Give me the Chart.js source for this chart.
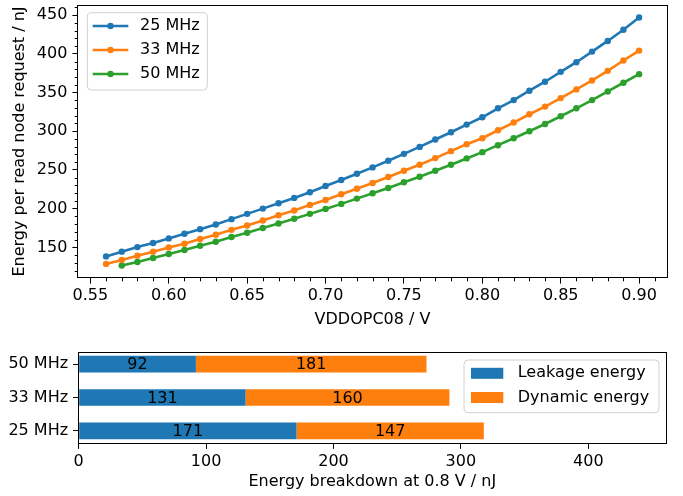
<!DOCTYPE html>
<html lang="en">
<head>
<meta charset="UTF-8">
<title>Energy per read node request</title>
<script src="https://cdn.jsdelivr.net/npm/chart.js"></script>
<style>
  body { margin: 0; background: white; }
  #wrap { position: relative; width: 683px; height: 496px; }
  .box { position: absolute; left: 0; width: 683px; }
  #top { top: 0; height: 340px; }
  #bottom { top: 340px; height: 156px; }
</style>
</head>
<body>
<div id="wrap">
  <div class="box" id="top"><canvas id="lineChart"></canvas></div>
  <div class="box" id="bottom"><canvas id="barChart"></canvas></div>
</div>
<script>
// supply voltage sweep (V)
var voltages = [0.56, 0.57, 0.58, 0.59, 0.60, 0.61, 0.62, 0.63, 0.64, 0.65, 0.66, 0.67,
                0.68, 0.69, 0.70, 0.71, 0.72, 0.73, 0.74, 0.75, 0.76, 0.77, 0.78, 0.79,
                0.80, 0.81, 0.82, 0.83, 0.84, 0.85, 0.86, 0.87, 0.88, 0.89, 0.90];
// energy per read node request (nJ)
var e25 = [138.4, 144.5, 150.4, 155.6, 161.6, 167.6, 173.6, 179.6, 186.5, 193.3, 200.1, 207.0,
           213.9, 221.2, 229.3, 237.0, 245.1, 253.3, 261.8, 270.8, 279.8, 289.3, 298.7, 308.6,
           318.0, 329.6, 340.2, 352.3, 363.9, 376.7, 389.1, 402.8, 416.6, 431.1, 446.9];
var e33 = [128.7, 133.8, 139.3, 144.5, 150.0, 154.8, 160.8, 166.3, 172.7, 178.3, 184.7, 191.6,
           197.6, 204.9, 211.3, 218.6, 225.8, 233.2, 240.9, 249.0, 256.7, 265.3, 274.3, 283.3,
           291.0, 301.3, 311.2, 321.9, 331.8, 342.8, 354.0, 365.6, 378.0, 391.3, 404.1];
var e50 = [null, 126.5, 131.2, 136.4, 141.5, 146.7, 152.2, 157.3, 163.4, 168.9, 175.0, 180.9,
           187.0, 193.3, 199.7, 206.2, 213.0, 219.9, 226.7, 234.1, 241.3, 249.0, 256.7, 264.9,
           273.0, 282.0, 291.0, 300.0, 309.4, 319.3, 329.6, 340.2, 351.4, 362.6, 373.7];
var seriesNames = ['25 MHz', '33 MHz', '50 MHz'];

var xTicks = [0.55, 0.60, 0.65, 0.70, 0.75, 0.80, 0.85, 0.90];
var xMinor = [0.56, 0.57, 0.58, 0.59, 0.61, 0.62, 0.63, 0.64, 0.66, 0.67, 0.68, 0.69,
              0.71, 0.72, 0.73, 0.74, 0.76, 0.77, 0.78, 0.79, 0.81, 0.82, 0.83, 0.84,
              0.86, 0.87, 0.88, 0.89, 0.91];
var yTicks = [150, 200, 250, 300, 350, 400, 450];
var yMinor = [120, 130, 140, 160, 170, 180, 190, 210, 220, 230, 240, 260, 270, 280, 290,
              310, 320, 330, 340, 360, 370, 380, 390, 410, 420, 430, 440, 460];

// breakdown at 0.8 V (bottom to top)
var freqs = ['25 MHz', '33 MHz', '50 MHz'];
var leakage = [171, 131, 92];
var dynamic = [147, 160, 181];
var breakdownNames = ['Leakage energy', 'Dynamic energy'];
var barTicks = [0, 100, 200, 300, 400];

var blue = '#1f77b4', orange = '#ff7f0e', green = '#2ca02c';
var lineColors = [blue, orange, green];

Chart.defaults.font.family = "'DejaVu Sans', sans-serif";
Chart.defaults.font.size = 16;
Chart.defaults.color = '#000';

function points(ys) {
    return voltages.map(function(v, i) { return {x: v, y: ys[i]}; });
}

function fixScale(size) {
    return function(scale) {
        if (scale.isHorizontal()) scale.height = size; else scale.width = size;
        scale.paddingTop = 0; scale.paddingBottom = 0;
        scale.paddingLeft = 0; scale.paddingRight = 0;
    };
}

function setTicks(list) {
    return function(scale) {
        scale.ticks = list.map(function(v) { return {value: v}; });
    };
}

function roundRect(ctx, x, y, w, h, r) {
    ctx.beginPath();
    ctx.moveTo(x + r, y);
    ctx.lineTo(x + w - r, y);
    ctx.quadraticCurveTo(x + w, y, x + w, y + r);
    ctx.lineTo(x + w, y + h - r);
    ctx.quadraticCurveTo(x + w, y + h, x + w - r, y + h);
    ctx.lineTo(x + r, y + h);
    ctx.quadraticCurveTo(x, y + h, x, y + h - r);
    ctx.lineTo(x, y + r);
    ctx.quadraticCurveTo(x, y, x + r, y);
    ctx.closePath();
}

function drawFrame(chart) {
    var ctx = chart.ctx, a = chart.chartArea;
    ctx.save();
    ctx.strokeStyle = '#000';
    ctx.lineWidth = 1;
    ctx.strokeRect(Math.round(a.left) - 0.5, Math.round(a.top) + 0.5,
                   Math.round(a.right - a.left) + 1, Math.round(a.bottom - a.top) - 1);
    ctx.restore();
}

// line chart: frame, minor ticks and legend
var linePlugin = {
    id: 'lineExtras',
    afterDraw: function(chart) {
        var ctx = chart.ctx, a = chart.chartArea;
        var xs = chart.scales.x, ys = chart.scales.y;
        drawFrame(chart);
        ctx.save();
        ctx.strokeStyle = '#000';
        ctx.lineWidth = 1;
        xMinor.forEach(function(v) {
            var px = Math.round(xs.getPixelForValue(v)) + 0.5;
            ctx.beginPath(); ctx.moveTo(px, a.bottom); ctx.lineTo(px, a.bottom + 3.3); ctx.stroke();
        });
        yMinor.forEach(function(v) {
            var py = Math.round(ys.getPixelForValue(v)) + 0.5;
            ctx.beginPath(); ctx.moveTo(a.left, py); ctx.lineTo(a.left - 3.3, py); ctx.stroke();
        });

        var x0 = a.left + 9.3, y0 = a.top + 7.7;
        roundRect(ctx, x0, y0, 120, 77.3, 4);
        ctx.fillStyle = 'rgba(255,255,255,0.8)';
        ctx.fill();
        ctx.strokeStyle = '#d0d0d0';
        ctx.stroke();
        ctx.textBaseline = 'middle';
        ctx.textAlign = 'left';
        ctx.font = "16px 'DejaVu Sans', sans-serif";
        seriesNames.forEach(function(name, i) {
            var cy = y0 + 13.3 + i * 24;
            ctx.strokeStyle = lineColors[i];
            ctx.lineWidth = 2.6;
            ctx.beginPath(); ctx.moveTo(x0 + 5.4, cy); ctx.lineTo(x0 + 41, cy); ctx.stroke();
            ctx.fillStyle = lineColors[i];
            ctx.beginPath(); ctx.arc(x0 + 23.2, cy, 3.2, 0, Math.PI * 2); ctx.fill();
            ctx.fillStyle = '#000';
            ctx.fillText(name, x0 + 52.7, cy);
        });
        ctx.restore();
    }
};

// bar chart: frame, value labels and legend
var barPlugin = {
    id: 'barExtras',
    afterDatasetsDraw: function(chart) {
        var ctx = chart.ctx;
        ctx.save();
        ctx.fillStyle = '#000';
        ctx.font = "16px 'DejaVu Sans', sans-serif";
        ctx.textAlign = 'center';
        ctx.textBaseline = 'middle';
        chart.data.datasets.forEach(function(ds, di) {
            chart.getDatasetMeta(di).data.forEach(function(bar, i) {
                ctx.fillText(String(ds.data[i].x), (bar.x + bar.base) / 2, bar.y + 1);
            });
        });
        ctx.restore();
    },
    afterDraw: function(chart) {
        var ctx = chart.ctx, a = chart.chartArea;
        drawFrame(chart);
        ctx.save();
        var w = 195, h = 52.7;
        var x0 = a.right - 7 - w, y0 = a.top + 8.3;
        roundRect(ctx, x0, y0, w, h, 4);
        ctx.fillStyle = 'rgba(255,255,255,0.8)';
        ctx.fill();
        ctx.strokeStyle = '#d0d0d0';
        ctx.lineWidth = 1;
        ctx.stroke();
        ctx.textBaseline = 'middle';
        ctx.textAlign = 'left';
        ctx.font = "16px 'DejaVu Sans', sans-serif";
        var cols = [blue, orange];
        breakdownNames.forEach(function(name, i) {
            var cy = y0 + 13.3 + i * 24.2;
            ctx.fillStyle = cols[i];
            ctx.fillRect(x0 + 7, cy - 5.5, 32.3, 11);
            ctx.fillStyle = '#000';
            ctx.fillText(name, x0 + 53.7, cy);
        });
        ctx.restore();
    }
};

var tickGrid = { drawOnChartArea: false, offset: false, tickLength: 5.6, tickColor: '#000', tickWidth: 1 };

new Chart(document.getElementById('lineChart'), {
    type: 'line',
    data: {
        datasets: [
            { label: seriesNames[0], data: points(e25), borderColor: blue, backgroundColor: blue },
            { label: seriesNames[1], data: points(e33), borderColor: orange, backgroundColor: orange },
            { label: seriesNames[2], data: points(e50), borderColor: green, backgroundColor: green }
        ]
    },
    options: {
        responsive: true,
        maintainAspectRatio: false,
        animation: false,
        layout: { padding: { top: 5, right: 16, left: 0, bottom: 0 } },
        elements: {
            line: { borderWidth: 2.6, tension: 0 },
            point: { radius: 3.2, borderWidth: 0, hoverRadius: 3.2 }
        },
        plugins: { legend: { display: false }, tooltip: { enabled: false } },
        scales: {
            x: {
                type: 'linear',
                min: 0.5421,
                max: 0.9178,
                afterBuildTicks: setTicks(xTicks),
                afterFit: fixScale(62),
                grid: tickGrid,
                border: { display: false },
                ticks: { padding: 3, maxRotation: 0, callback: function(v) { return v.toFixed(2); } },
                title: { display: true, text: 'VDDOPC08 / V', padding: { top: 0, bottom: 10.4 } }
            },
            y: {
                type: 'linear',
                min: 110.5,
                max: 463,
                afterBuildTicks: setTicks(yTicks),
                afterFit: fixScale(78),
                grid: tickGrid,
                border: { display: false },
                ticks: { padding: 5 },
                title: { display: true, text: 'Energy per read node request / nJ', padding: { top: 10.4, bottom: 0 } }
            }
        }
    },
    plugins: [linePlugin]
});

new Chart(document.getElementById('barChart'), {
    type: 'bar',
    data: {
        datasets: [
            { label: breakdownNames[0], stack: 'e', backgroundColor: blue,
              data: leakage.map(function(v, i) { return {x: v, y: i}; }) },
            { label: breakdownNames[1], stack: 'e', backgroundColor: orange,
              data: dynamic.map(function(v, i) { return {x: v, y: i}; }) }
        ]
    },
    options: {
        indexAxis: 'y',
        responsive: true,
        maintainAspectRatio: false,
        animation: false,
        layout: { padding: { top: 11.7, right: 17, left: 0, bottom: 0 } },
        datasets: { bar: { barPercentage: 0.5, categoryPercentage: 1, borderWidth: 0 } },
        plugins: { legend: { display: false }, tooltip: { enabled: false } },
        scales: {
            x: {
                type: 'linear',
                stacked: true,
                min: 0,
                max: 461,
                afterBuildTicks: setTicks(barTicks),
                afterFit: fixScale(52.7),
                grid: tickGrid,
                border: { display: false },
                ticks: { padding: 3, maxRotation: 0 },
                title: { display: true, text: 'Energy breakdown at 0.8 V / nJ', padding: { top: 0, bottom: 4.4 } }
            },
            y: {
                type: 'linear',
                offset: false,
                min: -0.375,
                max: 2.375,
                afterBuildTicks: setTicks([0, 1, 2]),
                afterFit: fixScale(78.7),
                grid: tickGrid,
                border: { display: false },
                ticks: { padding: 5, callback: function(v) { return freqs[v]; } }
            }
        }
    },
    plugins: [barPlugin]
});
</script>
</body>
</html>
